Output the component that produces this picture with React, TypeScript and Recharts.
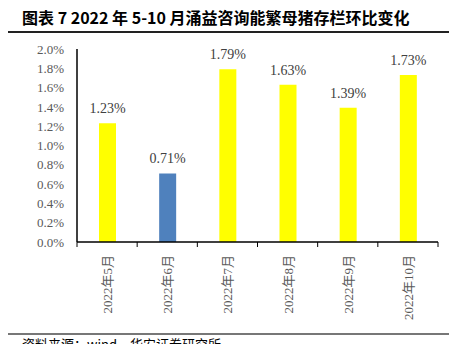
import { BarChart, Bar, XAxis, YAxis, LabelList, Cell } from "recharts";

const months = ["2022年5月", "2022年6月", "2022年7月", "2022年8月", "2022年9月", "2022年10月"];
const changePct = [1.23, 0.71, 1.79, 1.63, 1.39, 1.73];
const barColors = ["#FFFF00", "#4F81BD", "#FFFF00", "#FFFF00", "#FFFF00", "#FFFF00"];
const yTicks = [0, 0.2, 0.4, 0.6, 0.8, 1.0, 1.2, 1.4, 1.6, 1.8, 2.0];

const data = months.map((m, i) => ({ name: m, value: changePct[i] }));

const W = 457;
const H = 352;
const M = { top: 49, right: 19, bottom: 30, left: 0 };
const Y_W = 77;
const X_H = 80;
const band = (W - M.left - M.right - Y_W) / months.length;
const serif = '"Liberation Serif", "Times New Roman", "Noto Sans CJK SC", serif';

function MonthTick(props: any) {
  const { x, y, payload, index } = props;
  const half = band / 2;
  return (
    <g>
      <line x1={x - half} y1={y - 8} x2={x - half} y2={y - 3} stroke="#000" strokeWidth={1} />
      {index === months.length - 1 && (
        <line x1={x + half} y1={y - 8} x2={x + half} y2={y - 3} stroke="#000" strokeWidth={1} />
      )}
      <text
        x={0}
        y={0}
        transform={`translate(${x + 5},${y + 5}) rotate(-90)`}
        textAnchor="end"
        fontSize={13}
        fill="#595959"
        fontFamily={serif}
      >
        {payload.value}
      </text>
    </g>
  );
}

export default function App() {
  return (
    <div style={{ position: "relative", width: W, height: H, margin: -8, background: "#fff", overflow: "hidden" }}>
      <div
        style={{
          position: "absolute",
          left: 22,
          top: 7,
          fontFamily: '"Noto Sans CJK SC", "Liberation Sans", sans-serif',
          fontWeight: 700,
          fontSize: 16,
          lineHeight: "21px",
          color: "#000",
          whiteSpace: "nowrap",
        }}
      >
        图表 7 2022 年 5-10 月涌益咨询能繁母猪存栏环比变化
      </div>
      <div style={{ position: "absolute", left: 0, top: 31, width: 450, height: 1.5, background: "#222" }} />
      <div style={{ position: "absolute", left: 0, top: 0 }}>
        <BarChart width={W} height={H} data={data} margin={M}>
          <YAxis
            width={Y_W}
            domain={[0, 2]}
            ticks={yTicks}
            interval={0}
            tickFormatter={(v: number) => `${v.toFixed(1)}%`}
            tickLine={false}
            tickMargin={7}
            axisLine={{ stroke: "#000", strokeWidth: 1.5 }}
            tick={{ fontSize: 13, fill: "#595959", fontFamily: serif }}
          />
          <XAxis
            dataKey="name"
            height={X_H}
            interval={0}
            tickLine={false}
            axisLine={{ stroke: "#000", strokeWidth: 1.5 }}
            tick={<MonthTick />}
          />
          <Bar dataKey="value" barSize={17} isAnimationActive={false}>
            {data.map((d, i) => (
              <Cell key={d.name} fill={barColors[i]} />
            ))}
            <LabelList
              dataKey="value"
              position="top"
              offset={10}
              formatter={(v: any) => `${Number(v).toFixed(2)}%`}
              style={{ fontSize: 14, fill: "#404040", fontFamily: serif }}
            />
          </Bar>
        </BarChart>
      </div>
      <div style={{ position: "absolute", left: 0, top: 333, width: 450, height: 1.5, background: "#777" }} />
      <div
        style={{
          position: "absolute",
          left: 22,
          top: 336,
          fontFamily: '"Noto Sans CJK SC", sans-serif',
          fontSize: 13,
          lineHeight: "15px",
          color: "#000",
          whiteSpace: "nowrap",
        }}
      >
        资料来源：wind，华安证券研究所
      </div>
    </div>
  );
}
